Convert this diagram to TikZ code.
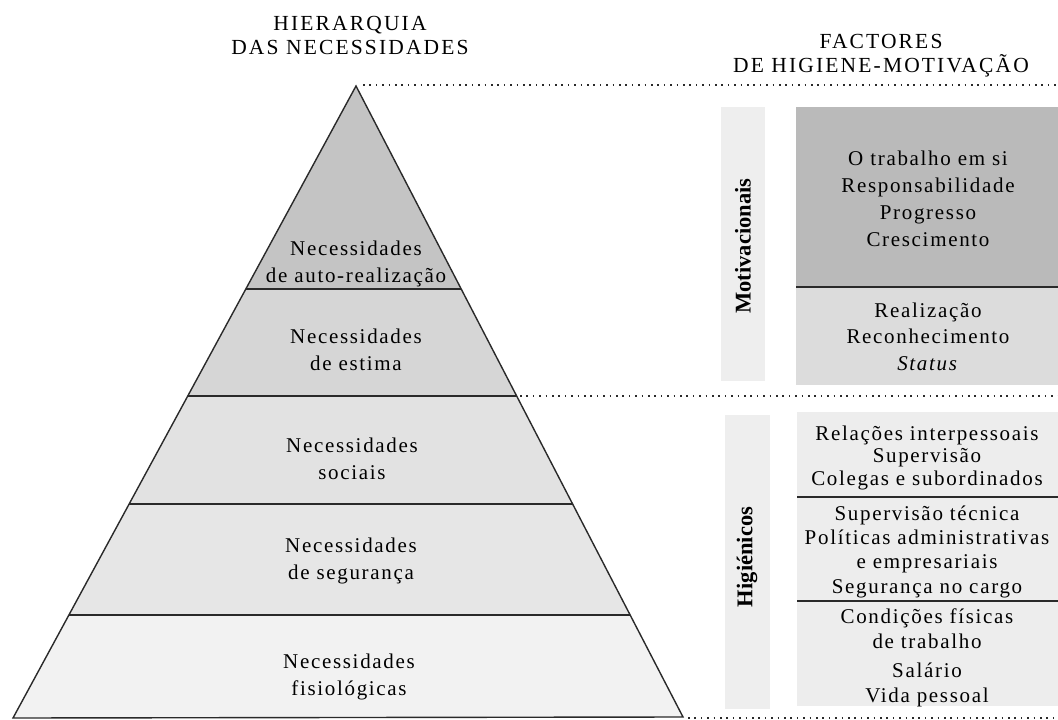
\documentclass[tikz,border=0pt]{standalone}
\usepackage{fontspec}
\setmainfont{Liberation Serif}[LetterSpace=8]
\newfontfamily\headfont{Liberation Serif}[LetterSpace=10]
\newfontfamily\labfont{Liberation Serif}
\definecolor{bandA}{HTML}{C4C4C4}
\definecolor{bandB}{HTML}{D6D6D6}
\definecolor{bandC}{HTML}{E2E2E2}
\definecolor{bandD}{HTML}{E6E6E6}
\definecolor{bandE}{HTML}{F2F2F2}
\definecolor{motdark}{HTML}{BABABA}
\definecolor{motlight}{HTML}{DCDCDC}
\definecolor{labfill}{HTML}{EEEEEE}
\definecolor{hygfill}{HTML}{EDEDED}
\definecolor{inkc}{HTML}{2A2A2A}
\begin{document}
\begin{tikzpicture}[x=1pt,y=-1pt,
  pline/.style={draw=inkc, line width=1.4pt},
  dotline/.style={draw=inkc, line width=1.6pt, dash pattern=on 1.6pt off 4.8pt},
  bodytxt/.style={align=center, anchor=base, inner sep=0pt, text=black,
    font=\fontsize{21}{26.8}\selectfont},
  headtxt/.style={align=center, anchor=base, inner sep=0pt, text=black,
    font=\headfont\fontsize{21.5}{24}\selectfont},
  sidelab/.style={rotate=90, inner sep=0pt, text=black,
    font=\labfont\bfseries\fontsize{22.5}{24}\selectfont}]
\useasboundingbox (0,0) rectangle (1058,720);

% headings (anchor = baseline of last line)
\node[headtxt] (hhier) at (350,54) {HIERARQUIA\\DAS NECESSIDADES};
\node[headtxt] (hfact) at (881,72) {FACTORES\\DE HIGIENE-MOTIVAÇÃO};

% pyramid
\coordinate (apex) at (356,86);
\coordinate (bl) at (13,718);
\coordinate (br) at (683,717);
\begin{scope}
  \clip (apex) -- (bl) -- (br) -- cycle;
  \fill[bandA] (0,80) rectangle (700,289);
  \fill[bandB] (0,289) rectangle (700,396);
  \fill[bandC] (0,396) rectangle (700,504);
  \fill[bandD] (0,504) rectangle (700,615);
  \fill[bandE] (0,615) rectangle (700,720);
  \draw[pline] (0,289) -- (700,289);
  \draw[pline] (0,396) -- (700,396);
  \draw[pline] (0,504) -- (700,504);
  \draw[pline] (0,615) -- (700,615);
\end{scope}
\draw[pline, line join=miter] (apex) -- (bl) -- (br) -- cycle;

\node[bodytxt] (nauto) at (356,282) {Necessidades\\de auto-realização};
\node[bodytxt] (nestima) at (356,370) {Necessidades\\de estima};
\node[bodytxt] (nsoc) at (352,479) {Necessidades\\sociais};
\node[bodytxt] (nseg) at (351,579) {Necessidades\\de segurança};
\node[bodytxt] (nfis) at (349,695) {Necessidades\\fisiológicas};

% dotted guide lines
\coordinate (d1a) at (363,85);  \coordinate (d1b) at (1058,85);
\coordinate (d2a) at (520,396); \coordinate (d2b) at (1058,396);
\coordinate (d3a) at (688,718); \coordinate (d3b) at (1058,718);
\draw[dotline] (d1a) -- (d1b);
\draw[dotline] (d2a) -- (d2b);
\draw[dotline] (d3a) -- (d3b);

% motivational block
\fill[labfill] (721,107) rectangle (765,381);
\fill[motdark] (796,107) rectangle (1058,287);
\fill[motlight] (796,287) rectangle (1058,385);
\draw[pline] (796,287) -- (1058,287);
\node[sidelab] (lmot) at (743,246) {Motivacionais};
\node[bodytxt] (tmot1) at (928,246) {O trabalho em si\\Responsabilidade\\Progresso\\Crescimento};
\node[bodytxt, font=\fontsize{21}{26.5}\selectfont] (tmot2) at (928,370) {Realização\\Reconhecimento\\\textit{Status}};

% hygiene block
\fill[labfill] (725,415) rectangle (770,709);
\fill[hygfill] (797,412) rectangle (1058,706);
\draw[pline] (797,497) -- (1058,497);
\draw[pline] (797,601) -- (1058,601);
\node[sidelab] (lhyg) at (747,557) {Higiénicos};
\node[bodytxt, font=\fontsize{21}{22.5}\selectfont] (thyg1) at (927,485)
  {Relações interpessoais\\Supervisão\\Colegas e subordinados};
\node[bodytxt, font=\fontsize{21}{24.3}\selectfont] (thyg2) at (927,593)
  {Supervisão técnica\\Políticas administrativas\\e empresariais\\Segurança no cargo};
\node[bodytxt, font=\fontsize{21}{25}\selectfont] (thyg3) at (927,702)
  {Condições físicas\\de trabalho\\[4pt]Salário\\Vida pessoal};
\end{tikzpicture}
\end{document}
